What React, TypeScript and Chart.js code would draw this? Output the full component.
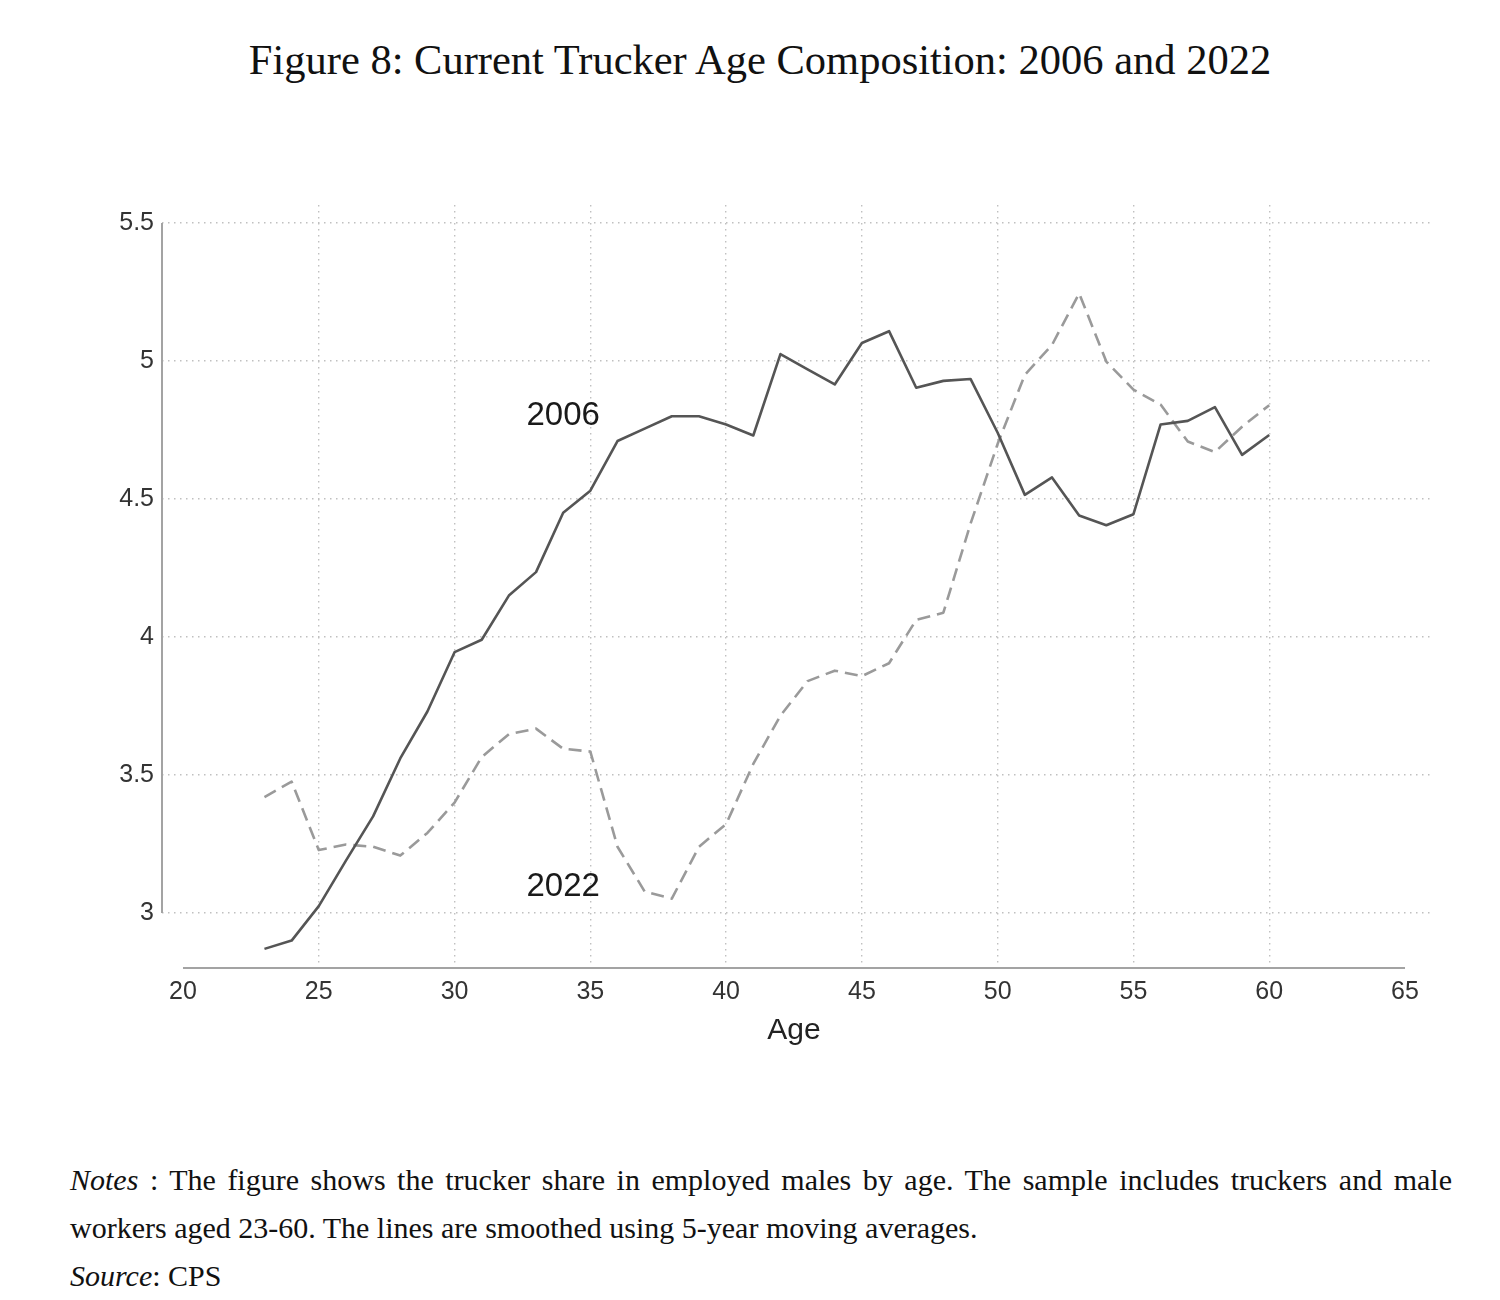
import React, { useEffect, useRef } from "react";
import { Chart, registerables } from "chart.js";

Chart.register(...registerables);

// ---- Data ----
const ages = [23, 24, 25, 26, 27, 28, 29, 30, 31, 32, 33, 34, 35, 36, 37, 38, 39, 40, 41, 42, 43, 44, 45, 46, 47, 48, 49, 50, 51, 52, 53, 54, 55, 56, 57, 58, 59, 60];
const share2006 = [2.87, 2.9, 3.025, 3.19, 3.35, 3.56, 3.73, 3.945, 3.99, 4.15, 4.235, 4.45, 4.53, 4.71, 4.755, 4.8, 4.8, 4.77, 4.73, 5.025, 4.97, 4.915, 5.065, 5.108, 4.903, 4.928, 4.935, 4.74, 4.515, 4.578, 4.44, 4.405, 4.445, 4.77, 4.783, 4.833, 4.66, 4.732];
const share2022 = [3.42, 3.476, 3.228, 3.248, 3.24, 3.208, 3.29, 3.4, 3.565, 3.648, 3.668, 3.595, 3.585, 3.24, 3.078, 3.052, 3.24, 3.322, 3.54, 3.715, 3.84, 3.878, 3.858, 3.905, 4.062, 4.088, 4.41, 4.7, 4.95, 5.058, 5.245, 4.998, 4.896, 4.842, 4.708, 4.67, 4.762, 4.84];
const seriesNames = ["2006", "2022"];
const xTickValues = [20, 25, 30, 35, 40, 45, 50, 55, 60, 65];
const yTickValues = [3, 3.5, 4, 4.5, 5, 5.5];
const xTitle = "Age";
const titleText = "Figure 8: Current Trucker Age Composition: 2006 and 2022";

// label anchors (data coordinates)
const labelAnchors = [
  { x: 34.0, y: 4.8 },
  { x: 34.0, y: 3.094 },
];

const SANS = '"Liberation Sans", Arial, Helvetica, sans-serif';
const SERIF = '"Liberation Serif", "Times New Roman", serif';

const overlayPlugin = {
  id: "overlay",
  afterDraw(chart: any) {
    const { ctx, chartArea } = chart;
    const xs = chart.scales.x;
    const ys = chart.scales.y;
    ctx.save();
    ctx.strokeStyle = "#a3a3a3";
    ctx.lineWidth = 2;
    // y axis line (spans tick range)
    ctx.beginPath();
    ctx.moveTo(chartArea.left, ys.getPixelForValue(yTickValues[yTickValues.length - 1]));
    ctx.lineTo(chartArea.left, ys.getPixelForValue(yTickValues[0]));
    ctx.stroke();
    // x axis line
    ctx.beginPath();
    ctx.moveTo(xs.getPixelForValue(xTickValues[0]), chartArea.bottom);
    ctx.lineTo(xs.getPixelForValue(xTickValues[xTickValues.length - 1]), chartArea.bottom);
    ctx.stroke();
    // axis title
    ctx.fillStyle = "#222";
    ctx.font = `30px ${SANS}`;
    ctx.textAlign = "center";
    ctx.textBaseline = "middle";
    const midX = (xTickValues[0] + xTickValues[xTickValues.length - 1]) / 2;
    ctx.fillText(xTitle, xs.getPixelForValue(midX), chartArea.bottom + 63);
    // series labels
    ctx.font = `33px ${SANS}`;
    ctx.fillStyle = "#1a1a1a";
    seriesNames.forEach((name, i) => {
      const a = labelAnchors[i];
      ctx.fillText(name, xs.getPixelForValue(a.x), ys.getPixelForValue(a.y));
    });
    ctx.restore();
  },
};

function TruckerChart() {
  const ref = useRef<HTMLCanvasElement | null>(null);
  useEffect(() => {
    if (!ref.current) return;
    const chart = new Chart(ref.current, {
      type: "line",
      data: {
        datasets: [
          {
            label: seriesNames[0],
            data: ages.map((a, i) => ({ x: a, y: share2006[i] })),
            borderColor: "#555555",
            borderWidth: 2.6,
            pointRadius: 0,
            tension: 0,
            borderJoinStyle: "round",
          },
          {
            label: seriesNames[1],
            data: ages.map((a, i) => ({ x: a, y: share2022[i] })),
            borderColor: "#9a9a9a",
            borderWidth: 2.6,
            borderDash: [13, 7],
            pointRadius: 0,
            tension: 0,
            borderJoinStyle: "round",
          },
        ],
      },
      options: {
        responsive: false,
        maintainAspectRatio: false,
        animation: false,
        devicePixelRatio: 1,
        layout: { padding: { top: 205, right: 70, left: 0, bottom: 0 } },
        plugins: { legend: { display: false }, tooltip: { enabled: false } },
        scales: {
          x: {
            type: "linear",
            min: 19.227,
            max: 65.92,
            afterBuildTicks: (scale: any) => {
              scale.ticks = xTickValues.map((v) => ({ value: v }));
            },
            afterFit: (scale: any) => {
              scale.height = 132;
            },
            ticks: {
              autoSkip: false,
              maxRotation: 0,
              padding: 9,
              color: "#333",
              font: { family: SANS, size: 25 },
              callback: (v: any) => String(v),
            },
            grid: {
              drawTicks: false,
              lineWidth: 1.4,
              color: (c: any) =>
                c.tick && (c.tick.value === xTickValues[0] || c.tick.value === xTickValues[xTickValues.length - 1])
                  ? "rgba(0,0,0,0)"
                  : "#c0c0c0",
            },
            border: { display: false, dash: [1.5, 4.5] },
          },
          y: {
            type: "linear",
            min: 2.8007,
            max: 5.5652,
            afterBuildTicks: (scale: any) => {
              scale.ticks = yTickValues.map((v) => ({ value: v }));
            },
            afterFit: (scale: any) => {
              scale.width = 162;
            },
            ticks: {
              padding: 8,
              color: "#333",
              font: { family: SANS, size: 25 },
              callback: (v: any) => String(v),
            },
            grid: {
              drawTicks: false,
              lineWidth: 1.4,
              color: "#c0c0c0",
            },
            border: { display: false, dash: [1.5, 4.5] },
          },
        },
      },
      plugins: [overlayPlugin],
    } as any);
    return () => chart.destroy();
  }, []);
  return (
    <canvas
      ref={ref}
      width={1500}
      height={1100}
      style={{ position: "absolute", left: 0, top: 0, width: 1500, height: 1100 }}
    />
  );
}

export default function App() {
  const noteStyle: React.CSSProperties = {
    position: "absolute",
    left: 70,
    width: 1382,
    fontFamily: SERIF,
    fontSize: 30,
    lineHeight: "48px",
    color: "#111",
    whiteSpace: "nowrap",
  };
  return (
    <div style={{ position: "absolute", left: 0, top: 0, width: 1500, height: 1300, background: "#fff", overflow: "hidden" }}>
      <div
        style={{
          position: "absolute",
          left: 10,
          top: 39,
          width: 1500,
          textAlign: "center",
          fontFamily: SERIF,
          fontSize: 42.5,
          lineHeight: "42.5px",
          color: "#111",
        }}
      >
        {titleText}
      </div>
      <TruckerChart />
      <div style={{ ...noteStyle, top: 1156, textAlign: "justify", textAlignLast: "justify", whiteSpace: "normal" }}>
        <i>Notes</i> : The figure shows the trucker share in employed males by age. The sample includes truckers and male
      </div>
      <div style={{ ...noteStyle, top: 1204 }}>
        workers aged 23-60. The lines are smoothed using 5-year moving averages.
      </div>
      <div style={{ ...noteStyle, top: 1252 }}>
        <i>Source</i>: CPS
      </div>
    </div>
  );
}
